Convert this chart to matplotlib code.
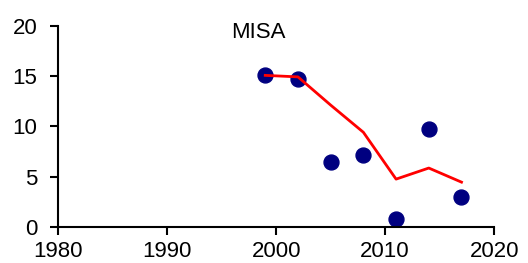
import numpy as np
import matplotlib.pyplot as plt

plt.rcParams['font.family'] = ['Liberation Sans', 'DejaVu Sans']

# observed values
years_obs = [1999, 2002, 2005, 2008, 2011, 2014, 2017]
vals_obs = [15.1, 14.7, 6.45, 7.1, 0.8, 9.7, 3.0]

# trend line
years_fit = [1999, 2002, 2005, 2008, 2011, 2014, 2017]
vals_fit = [15.05, 14.9, 12.1, 9.4, 4.75, 5.85, 4.45]

fig = plt.figure(figsize=(5.28, 2.63), dpi=100)
ax = fig.add_axes([0.110, 0.137, 0.826, 0.766])

ax.plot(years_fit, vals_fit, color='#ff0000', lw=2.0, zorder=3)
ax.scatter(years_obs, vals_obs, s=115, color='#000080', zorder=2, clip_on=False)

ax.set_xlim(1980, 2020)
ax.set_ylim(0, 20)
ax.set_xticks([1980, 1990, 2000, 2010, 2020])
ax.set_yticks([0, 5, 10, 15, 20])

for s in ['top', 'right']:
    ax.spines[s].set_visible(False)
for s in ['left', 'bottom']:
    ax.spines[s].set_linewidth(1.5)
ax.tick_params(direction='out', length=6, width=1.5, labelsize=16)
ax.tick_params(axis='x', pad=4)
ax.tick_params(axis='y', pad=9)

ax.text(1998.4, 19.3, 'MISA', ha='center', va='center', fontsize=16)

fig.savefig('out.png', dpi=100)
